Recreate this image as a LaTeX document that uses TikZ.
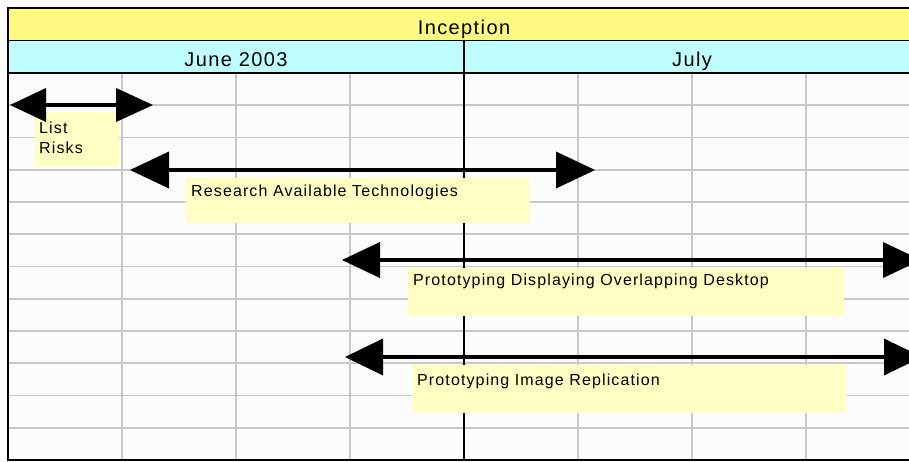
\documentclass[tikz,border=0pt]{standalone}
\usepackage{fontspec}
\setmainfont{Liberation Sans}[LetterSpace=7]
\usetikzlibrary{arrows.meta}
\definecolor{hdrYellow}{HTML}{FFFA80}
\definecolor{hdrCyan}{HTML}{C0FFFF}
\definecolor{noteYellow}{HTML}{FFFFC4}
\definecolor{gridGray}{HTML}{C8C8C8}
\definecolor{paper}{HTML}{FCFCFC}
\tikzset{
  gridline/.style={draw=gridGray, line width=1.8pt},
  frameline/.style={draw=black, line width=1.3pt},
  headtext/.style={font=\fontsize{20}{24}\selectfont, inner sep=0pt, anchor=base},
  notebox/.style={fill=noteYellow, draw=none, anchor=north west, inner sep=0pt},
  notetext/.style={font=\fontsize{16}{19}\selectfont, inner sep=0pt, anchor=base west},
  span/.style={line width=4.6pt, draw=black},
}
\begin{document}
\begin{tikzpicture}[x=1pt,y=-1pt]
\useasboundingbox (0,0) rectangle (909,461);
\begin{scope}
\clip (0,0) rectangle (909,461);
% grid area
\fill[paper] (8,73) rectangle (920,460);
\foreach \x in {122,236,350,578,692,806} \draw[gridline] (\x,73) -- (\x,460);
\foreach \k in {1,...,11} \draw[gridline] (8,73+\k*32.25) -- (920,73+\k*32.25);
% header bars
\fill[hdrYellow] (8,8) rectangle (920,40.5);
\fill[hdrCyan] (8,40.5) rectangle (920,73);
\draw[frameline] (920,8) -- (8,8) -- (8,460) -- (920,460);
\draw[frameline] (8,40.5) -- (920,40.5);
\draw[frameline] (8,73) -- (920,73);
\draw[frameline] (464,40.5) -- (464,460);
\node[headtext] (inception) at (464,34) {Inception};
\node[headtext] (june) at (236,66) {June 2003};
\node[headtext] (july) at (692,66) {July};
% note boxes
\node[notebox, minimum width=84pt, minimum height=55pt] (box1) at (35,112) {};
\node[notetext] (t1a) at (39,133) {List};
\node[notetext] (t1b) at (39,153) {Risks};
\node[notebox, minimum width=344pt, minimum height=45pt] (box2) at (186,178) {};
\node[notetext] (t2) at (191,196) {Research Available Technologies};
\node[notebox, minimum width=436pt, minimum height=48pt] (box3) at (408,268) {};
\node[notetext] (t3) at (413,285) {Prototyping Displaying Overlapping Desktop};
\node[notebox, minimum width=434pt, minimum height=48pt] (box4) at (412,365) {};
\node[notetext] (t4) at (417,385) {Prototyping Image Replication};
% spans
\coordinate (a1) at (10,105);  \coordinate (b1) at (153,105);
\coordinate (a2) at (130,170); \coordinate (b2) at (595,170);
\coordinate (a3) at (342,260); \coordinate (b3) at (921,260);
\coordinate (a4) at (345,357); \coordinate (b4) at (922,357);
\draw[span, {Triangle[length=36pt,width=34pt,line width=0pt]}-{Triangle[length=37pt,width=34pt,line width=0pt]}] (a1) -- (b1);
\draw[span, {Triangle[length=39pt,width=37pt,line width=0pt]}-{Triangle[length=39pt,width=37pt,line width=0pt]}] (a2) -- (b2);
\draw[span, {Triangle[length=38pt,width=36pt,line width=0pt]}-{Triangle[length=38pt,width=36pt,line width=0pt]}] (a3) -- (b3);
\draw[span, {Triangle[length=38pt,width=37pt,line width=0pt]}-{Triangle[length=38pt,width=37pt,line width=0pt]}] (a4) -- (b4);
\end{scope}
\end{tikzpicture}
\end{document}
